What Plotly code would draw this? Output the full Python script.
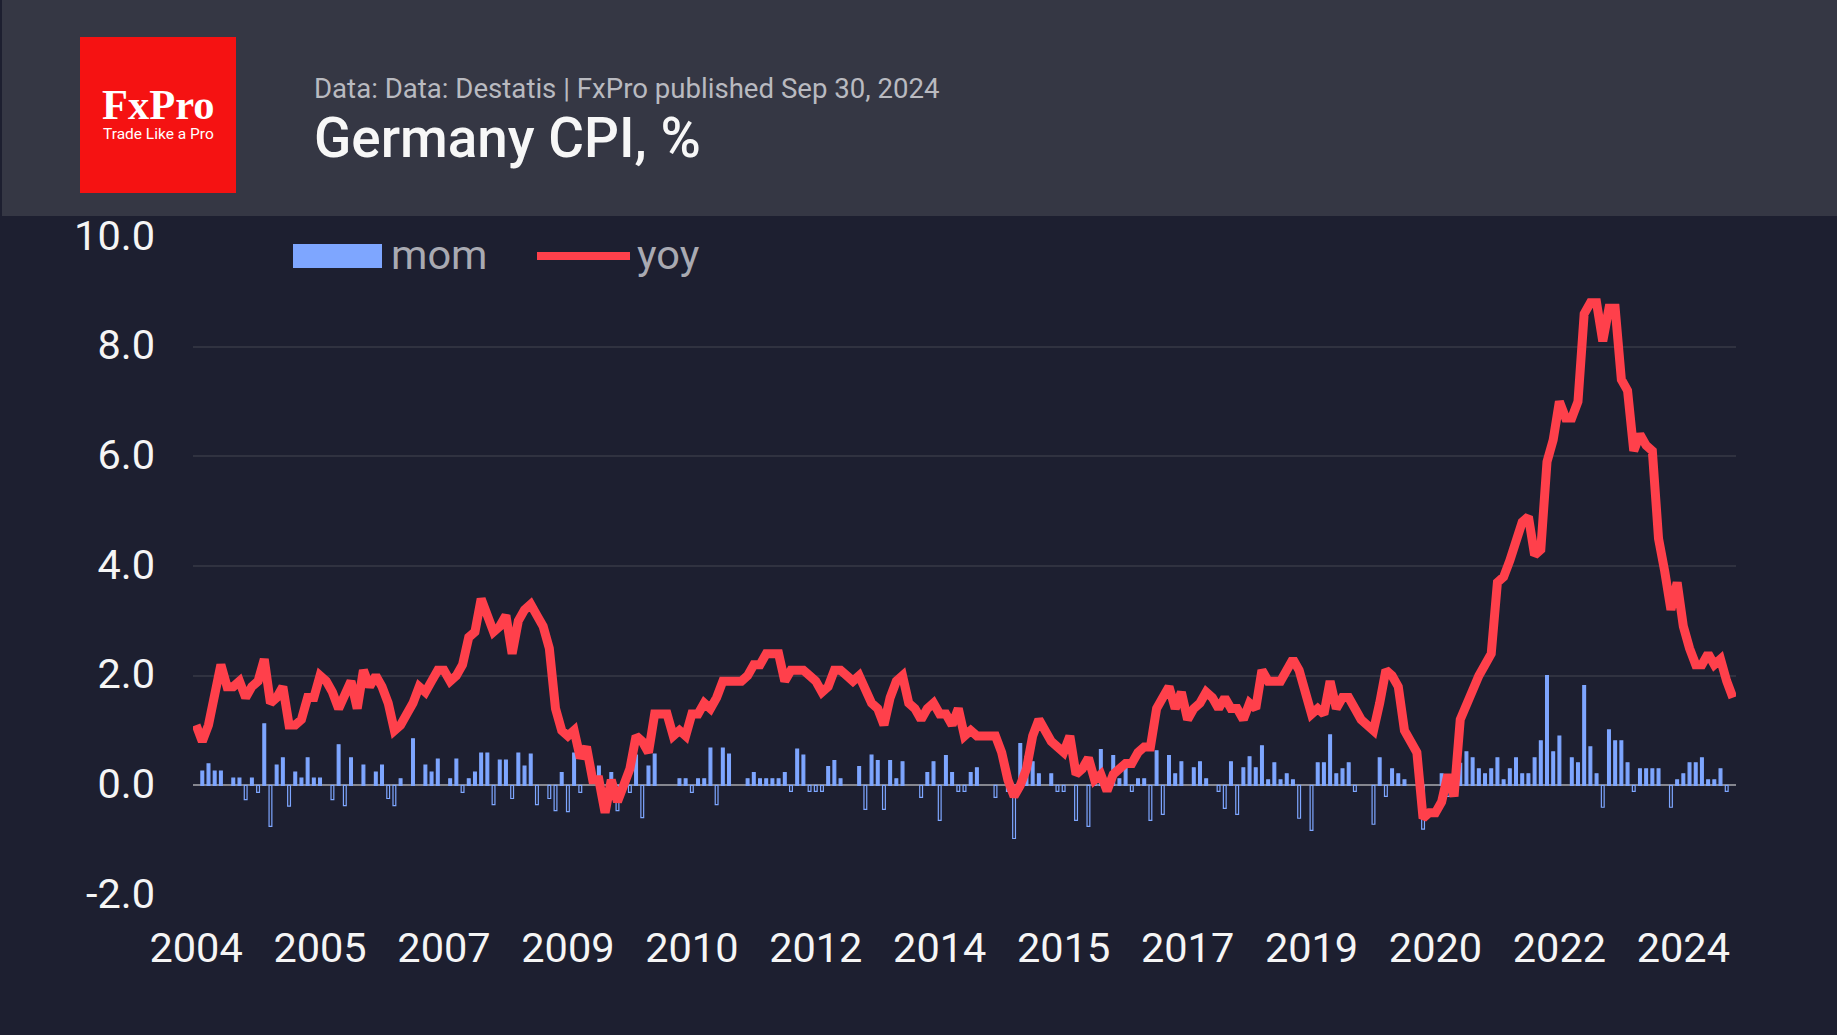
import plotly.graph_objects as go

# ---- data ----
months = [f"{2004 + k // 12}-{k % 12 + 1:02d}" for k in range(249)]

yoy = [1.1, .8, 1.1, 1.6, 2.2, 1.8, 1.8, 1.9, 1.6, 1.8,
       1.9, 2.3, 1.5, 1.6, 1.8, 1.1, 1.1, 1.2, 1.6, 1.6,
       2.0, 1.9, 1.7, 1.4, 1.7, 1.9, 1.4, 2.1, 1.8, 2.0,
       1.8, 1.5, 1.0, 1.1, 1.3, 1.5, 1.8, 1.7, 1.9, 2.1,
       2.1, 1.9, 2.0, 2.2, 2.7, 2.8, 3.4, 3.1, 2.8, 2.9,
       3.1, 2.4, 3.0, 3.2, 3.3, 3.1, 2.9, 2.5, 1.4, 1.0,
       .9, 1.0, .5, .7, .1, .1, -.5, .1, -.3, 0,
       .3, .9, .8, .6, 1.3, 1.3, 1.3, .9, 1.0, .9,
       1.3, 1.3, 1.5, 1.4, 1.6, 1.9, 1.9, 1.9, 1.9, 2.0,
       2.2, 2.2, 2.4, 2.4, 2.4, 1.9, 2.1, 2.1, 2.1, 2.0,
       1.9, 1.7, 1.8, 2.1, 2.1, 2.0, 1.9, 2.0, 1.7, 1.5,
       1.4, 1.1, 1.6, 1.9, 2.0, 1.5, 1.4, 1.2, 1.4, 1.5,
       1.3, 1.3, 1.1, 1.4, .9, 1.0, .9, .9, .9, .9,
       .6, .1, -.2, 0, .3, .9, 1.2, 1.0, .8, .7,
       .6, .9, .2, .3, .5, .1, .2, -.1, .2, .3,
       .4, .4, .6, .7, .7, 1.4, 1.6, 1.8, 1.4, 1.7,
       1.2, 1.4, 1.5, 1.7, 1.6, 1.4, 1.6, 1.4, 1.4, 1.2,
       1.5, 1.4, 2.1, 1.9, 1.9, 1.9, 2.1, 2.3, 2.1, 1.7,
       1.3, 1.4, 1.3, 1.9, 1.4, 1.6, 1.6, 1.4, 1.2, 1.1,
       1.0, 1.5, 2.1, 2.0, 1.8, 1.0, .8, .6, -.6, -.5,
       -.5, -.3, .2, -.2, 1.2, 1.5, 1.8, 2.0, 2.2, 2.4,
       3.7, 3.8, 4.1, 4.4, 4.8, 4.9, 4.2, 4.3, 5.9, 6.3,
       7.0, 6.7, 6.7, 7.0, 8.6, 8.8, 8.8, 8.1, 8.7, 8.7,
       7.4, 7.2, 6.1, 6.4, 6.2, 6.1, 4.5, 3.9, 3.2, 3.7,
       2.9, 2.5, 2.2, 2.2, 2.4, 2.2, 2.3, 1.9, 1.6]

mom = [0, .26, .39, .26, .26, 0, .13, .13, -.26, .13,
       -.13, 1.12, -.75, .37, .5, -.38, .24, .13, .5, .13,
       .13, 0, -.26, .74, -.37, .5, 0, .37, 0, .24,
       .37, -.24, -.37, .12, 0, .85, 0, .37, .24, .48,
       0, .12, .48, -.13, .12, .24, .59, .59, -.35, .46,
       .46, -.24, .59, .35, .57, -.35, 0, -.24, -.46, .23,
       -.48, .59, -.13, 0, 0, .35, 0, .23, -.46, 0,
       -.13, .55, -.59, .35, .57, 0, 0, 0, .12, .12,
       -.13, .12, .12, .68, -.35, .68, .57, 0, 0, .12,
       .23, .12, .12, .12, .12, .23, -.11, .66, .55, -.11,
       -.11, -.11, .34, .45, .12, 0, 0, .34, -.44, .55,
       .45, -.44, .45, .12, .43, 0, 0, -.22, .23, .43,
       -.64, .54, .23, -.11, -.11, .23, .32, 0, 0, -.22,
       0, -.11, -.97, .76, .53, .43, .21, 0, .21, -.11,
       -.11, 0, -.64, 0, -.75, .1, .65, 0, .54, .12,
       .32, -.11, .12, .12, -.64, .63, -.53, .54, .21, .43,
       0, .32, .43, .12, 0, -.11, -.42, .43, -.53, .32,
       .52, .32, .72, .1, .41, .1, .21, .1, -.6, 0,
       -.82, .41, .41, .92, .21, .3, .41, -.11, 0, 0,
       -.71, .5, -.2, .3, .21, .1, 0, 0, -.8, 0,
       0, .21, -.2, 0, .4, .61, .5, .3, .21, .3,
       .5, .1, .3, .5, .21, .21, .5, .81, 2.0, .61,
       .9, 0, .5, .41, 1.82, .7, .21, -.4, 1.01, .81,
       .81, .41, -.11, .3, .3, .3, .3, 0, -.4, .1,
       .21, .41, .41, .5, .1, .1, .3, -.11, 0]

x_tick_months = months[::20]
x_tick_labels = ["2004", "2005", "2007", "2009", "2010", "2012", "2014",
                 "2015", "2017", "2019", "2020", "2022", "2024"]
y_ticks = [-2, 0, 2, 4, 6, 8, 10]
y_tick_labels = ["-2.0", "0.0", "2.0", "4.0", "6.0", "8.0", "10.0"]

# ---- style ----
W, H = 1837, 1035
ML, MR, MT, MB = 193, 101, 237, 140
BG = "#1d1f30"
HEADER = "#353744"
BLUE = "#7ea6ff"
RED = "#ff404b"
FONT = "Roboto"
LABEL = 41.5


def px(v):
    return (v - ML) / (W - ML - MR)


def py(v):
    return 1 - (v - MT) / (H - MT - MB)


fig = go.Figure()
fig.add_bar(
    x=months,
    y=[v if v != 0 else None for v in mom],
    name="mom",
    width=0.45,
    marker=dict(
        color=[BLUE if v > 0 else BG for v in mom],
        line=dict(color=BLUE, width=1.2),
    ),
    showlegend=False,
)
fig.add_scatter(
    x=months, y=yoy, name="yoy", mode="lines",
    line=dict(color=RED, width=9, shape="linear"),
    showlegend=False,
)

paper = dict(xref="paper", yref="paper", layer="above")
shapes = [
    # header band and logo
    dict(type="rect", x0=px(2), x1=px(W), y0=py(216), y1=py(0), fillcolor=HEADER, line_width=0, **paper),
    dict(type="rect", x0=px(80), x1=px(236), y0=py(193), y1=py(37), fillcolor="#f51212", line_width=0, **paper),
    # legend swatches
    dict(type="rect", x0=px(293), x1=px(382), y0=py(268), y1=py(244), fillcolor=BLUE, line_width=0, **paper),
    dict(type="line", x0=px(537), x1=px(630), y0=py(256), y1=py(256),
         line=dict(color=RED, width=8), **paper),
]


def note(x, y, text, size, color, anchor="left", family=FONT, weight=None):
    f = dict(family=family, size=size, color=color)
    if weight:
        f["weight"] = weight
    return dict(xref="paper", yref="paper", x=px(x), y=py(y), text=text, showarrow=False,
                xanchor=anchor, yanchor="middle", font=f, borderpad=0)


annotations = [
    note(158, 104, "FxPro", 42.5, "#ffffff", "center", "Liberation Serif", 700),
    note(158, 134, "Trade Like a Pro", 15.5, "#ffffff", "center"),
    note(313, 88, "Data: Data: Destatis | FxPro published Sep 30, 2024", 27.6, "#b9bac0"),
    note(313, 138, "Germany CPI, %", 54.8, "#f7f7f7", weight=500),
    note(389.5, 254.5, "mom", 41.5, "#a9aab2"),
    note(635.5, 254.5, "yoy", 41.5, "#a9aab2"),
]

fig.update_layout(
    width=W, height=H,
    autosize=False,
    paper_bgcolor=BG, plot_bgcolor=BG,
    margin=dict(l=ML, r=MR, t=MT, b=MB, pad=0),
    font=dict(family=FONT, color="#f5f5f5", size=40),
    bargap=0.5,
    barmode="overlay",
    shapes=shapes,
    annotations=annotations,
    xaxis=dict(
        type="category", categoryorder="array", categoryarray=months,
        range=[-0.5, 248.5],
        tickmode="array", tickvals=x_tick_months, ticktext=x_tick_labels,
        showgrid=False, zeroline=False, showline=False, ticks="",
        tickangle=0, ticklabelstandoff=24,
        tickfont=dict(family=FONT, size=LABEL, color="#f5f5f5"),
    ),
    yaxis=dict(
        range=[-2, 10], tickmode="array", tickvals=y_ticks, ticktext=y_tick_labels,
        showgrid=True, gridcolor="#303240", gridwidth=2,
        zeroline=True, zerolinecolor="#85868f", zerolinewidth=2,
        showline=False, ticks="", ticklabelstandoff=37, ticklabelshift=-2,
        tickfont=dict(family=FONT, size=LABEL, color="#f5f5f5"),
    ),
)

fig.write_html(
    "out.html",
    config={"displayModeBar": False},
    post_script="document.body.style.margin='0';document.documentElement.style.background='%s';document.body.style.overflow='hidden';" % BG,
)
